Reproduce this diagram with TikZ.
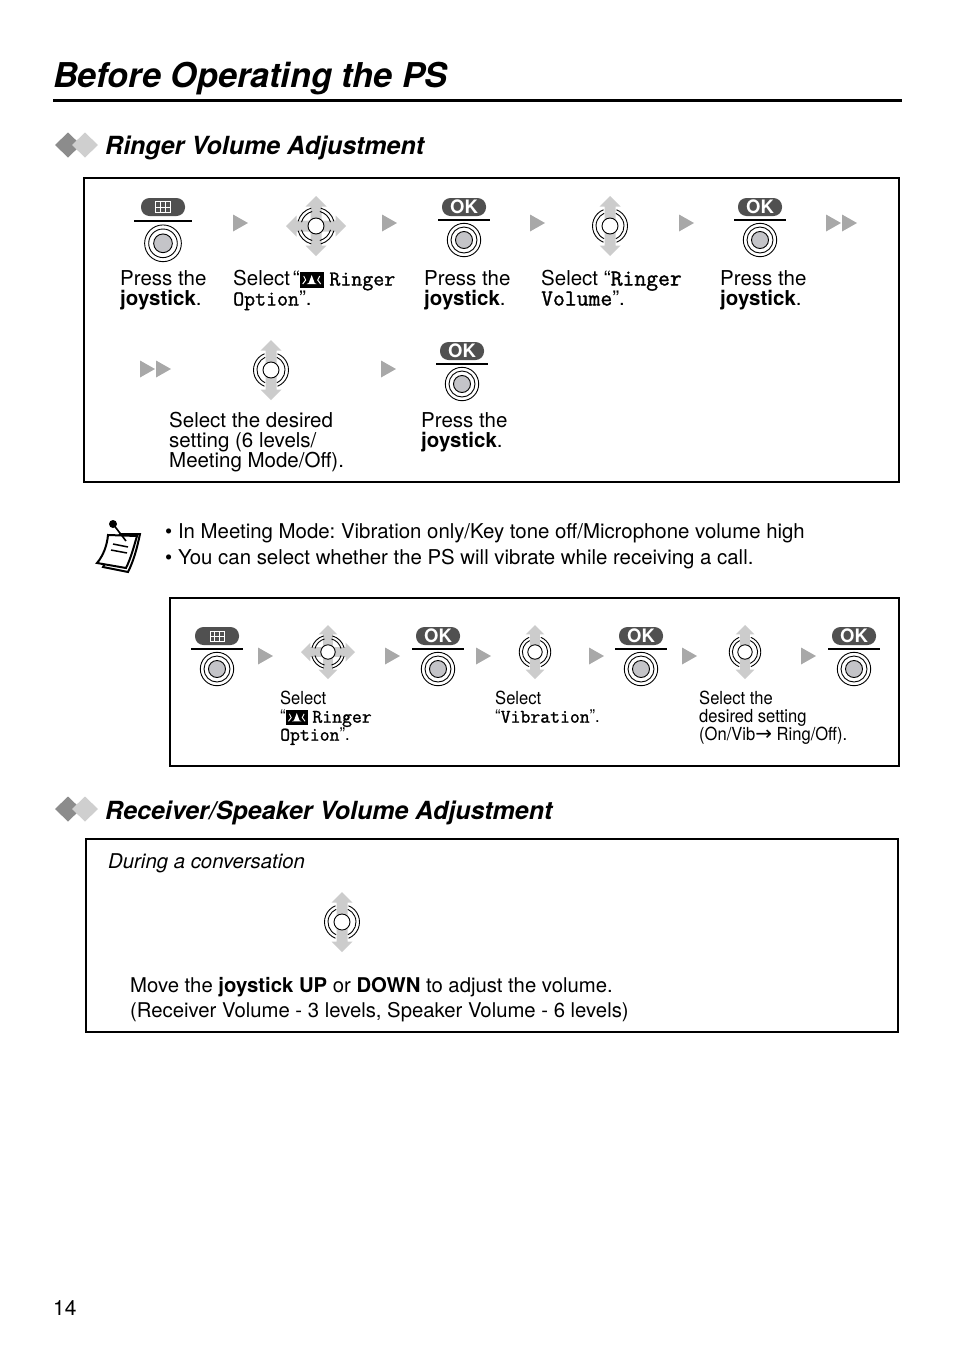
\documentclass[tikz,border=0pt]{standalone}
\usepackage{fontspec}
\usepackage{xcolor}
\setmainfont{TeX Gyre Heros}
\newfontfamily\narrowfont[FakeStretch=0.92]{TeX Gyre Heros}
\newfontfamily\keyfont[FakeBold=1.3]{Latin Modern Mono}
\newfontfamily\arrowfont{DejaVu Sans}
\usetikzlibrary{positioning}
\usetikzlibrary{calc}

\definecolor{pillgray}{HTML}{505050}
\definecolor{tipgray}{HTML}{A8A8A8}
\definecolor{stickgray}{HTML}{CCCCCC}
\definecolor{knobgray}{HTML}{C4C4C8}
\definecolor{darkdiamond}{HTML}{8C8C8C}
\definecolor{lightdiamond}{HTML}{CFCFCF}

\newcommand{\ringicon}{\tikz[baseline=2.5pt,x=1pt,y=1pt]{
    \fill[black] (0,0) rectangle (24,16);
    \fill[white] (12,13) -- (15,5) -- (17,4) -- (7,4) -- (9,5) -- cycle;
    \draw[white,line width=1pt] (4,12) -- (6,8) -- (3,4);
    \draw[white,line width=1pt] (20,12) -- (18,8) -- (21,4);
}}
\newcommand{\monotext}[2]{{\keyfont\fontsize{#1}{18}\selectfont #2}}
\newcommand{\stickshape}{
    \fill[stickgray] (0,-30) -- (10.5,-19.5) -- (5.5,-19.5) -- (5.5,19.5) -- (10.5,19.5) -- (0,30)
        -- (-10.5,19.5) -- (-5.5,19.5) -- (-5.5,-19.5) -- (-10.5,-19.5) -- cycle;
}
\newcommand{\ringshape}{
    \draw[line width=.9pt] (0,33) circle (16.7);
    \draw[line width=.9pt] (0,33) circle (13);
    \draw[line width=.9pt,fill=knobgray] (0,33) circle (8.5);
}

\begin{document}
\frenchspacing
\begin{tikzpicture}[
    x=1pt,y=-1pt,
    frame/.style={
        draw=black,
        line width=2.2pt,
        outer sep=0pt,
        anchor=north west,
        inner sep=0pt
    },
    bodytext/.style={
        font=\fontsize{20.5}{20}\selectfont,
        anchor=north west,
        align=left,
        inner sep=0pt
    },
    smalltext/.style={
        font=\narrowfont\fontsize{18}{18}\selectfont,
        anchor=north west,
        align=left,
        inner sep=0pt
    },
    heading/.style={
        font=\fontsize{25}{26}\bfseries\itshape\selectfont,
        anchor=base west,
        inner sep=0pt
    },
    pill/.style={
        fill=pillgray,
        rounded corners=8.5pt,
        minimum width=44pt,
        minimum height=18pt,
        inner sep=0pt,
        text=white,
        font=\fontsize{18.5}{18}\bfseries\selectfont
    },
    okpress/.pic={
        \node[pill] (-pill) at (0,0) {OK};
        \draw[line width=1.7pt] (-26,13) -- (26,13);
        \ringshape
    },
    menupress/.pic={
        \node[pill] (-pill) at (0,0) {};
        \draw[white,fill=pillgray,line width=1pt] (-7,-5) rectangle (7,5);
        \draw[white,line width=.7pt] (-7,0) -- (7,0) (-2.5,-5) -- (-2.5,5) (2.5,-5) -- (2.5,5);
        \draw[line width=1.7pt] (-26,13) -- (26,13);
        \ringshape
    },
    tip/.pic={
        \fill[tipgray] (-7,-8.5) -- (8,0) -- (-7,8.5) -- cycle;
    },
    doubletip/.pic={
        \fill[tipgray] (-16,-8.5) -- (-1,0) -- (-16,8.5) -- cycle;
        \fill[tipgray] (0,-8.5) -- (15,0) -- (0,8.5) -- cycle;
    },
    updown/.pic={
        \stickshape
        \draw[line width=.9pt] (68:17.5) arc[start angle=68,end angle=-68,radius=17.5];
        \draw[line width=.9pt] (112:17.5) arc[start angle=112,end angle=248,radius=17.5];
        \draw[line width=.9pt] (65:14) arc[start angle=65,end angle=-65,radius=14];
        \draw[line width=.9pt] (115:14) arc[start angle=115,end angle=245,radius=14];
        \draw[line width=.9pt,fill=white] (0,0) circle (8);
    },
    fourway/.pic={
        \stickshape
        \begin{scope}[rotate=90]
            \stickshape
        \end{scope}
        \foreach \ang in {45,135,225,315} {
            \draw[line width=.9pt] (\ang-30:18.5) arc[start angle=\ang-30,end angle=\ang+30,radius=18.5];
            \draw[line width=.9pt] (\ang-30:15) arc[start angle=\ang-30,end angle=\ang+30,radius=15];
        }
        \draw[line width=.9pt,fill=white] (0,0) circle (8);
    },
    diamonds/.pic={
        \fill[darkdiamond] (-13,0) -- (0,-12.5) -- (13,0) -- (0,12.5) -- cycle;
        \fill[lightdiamond] (4,0) -- (17,-12.5) -- (30,0) -- (17,12.5) -- cycle;
    }
]
\useasboundingbox (0,0) rectangle (954,1352);

% --- Title
\node[font=\fontsize{34.2}{36}\bfseries\itshape\selectfont,anchor=base west,inner sep=0pt] (title) at (53,87) {Before Operating the PS};
\coordinate (ruleleft) at (53,100);
\coordinate (ruleright) at (902,100);
\draw[line width=3pt] (ruleleft) -- (ruleright);

% --- Ringer section
\pic at (68,145) {diamonds};
\node[heading] (ringerhead) at (105,154) {Ringer Volume Adjustment};
\node[frame,minimum width=815pt,minimum height=304pt] (ringerbox) at (84,178) {};

% --- Ringer first row
\pic[scale=1.1] at (163,207) {menupress};
\pic at (240,223) {tip};
\pic at (316,226) {fourway};
\pic at (389,223) {tip};
\pic at (464,207) {okpress};
\pic at (537,223) {tip};
\pic at (610,226) {updown};
\pic at (686,223) {tip};
\pic at (760,207) {okpress};
\pic at (842,223) {doubletip};

\node[bodytext] (presslabela) at (120,270) {Press the\\\textbf{joystick}.};
\node[bodytext] (selectlabela) at (233,270) {Select\hspace{-3pt} “\ringicon{} \monotext{21.3}{Ringer}\\\monotext{21.3}{Option}”.};
\node[bodytext] (presslabelb) at (424,270) {Press the\\\textbf{joystick}.};
\node[bodytext] (selectlabelb) at (541,270) {Select “\monotext{23}{Ringer}\\\monotext{23}{Volume}”.};
\node[bodytext] (presslabelc) at (720,270) {Press the\\\textbf{joystick}.};

% --- Ringer second row
\pic at (156,369) {doubletip};
\pic at (271,370) {updown};
\pic at (388,369) {tip};
\pic at (462,351) {okpress};

\node[bodytext] (levellabel) at (169,412) {Select the desired\\setting (6 levels/\\Meeting Mode/Off).};
\node[bodytext] (presslabeld) at (421,412) {Press the\\\textbf{joystick}.};

% --- Note
\fill (113,524) circle (4);
\draw[line width=2pt,fill=white] (103,567) -- (128,572) .. controls (134,560) and (137,548) .. (140,534) -- (120,534) -- cycle;
\draw[line width=2pt,fill=white] (97,563) -- (126,568) .. controls (131,558) and (134,546) .. (137,536) -- (108,535) .. controls (107,546) and (103,556) .. (97,563) -- cycle;
\draw[line width=1.6pt] (113,524) -- (126,541);
\draw[line width=1.5pt] (113,544) -- (128,547);
\draw[line width=1.5pt] (111,550) -- (127,553);
\node[font=\fontsize{20.4}{26}\selectfont,anchor=north west,align=left,inner sep=0pt] (notetext) at (165,523) {• In Meeting Mode: Vibration only/Key tone off/Microphone volume high\\• You can select whether the PS will vibrate while receiving a call.};

% --- Short steps
\node[frame,minimum width=729pt,minimum height=168pt] (stepbox) at (170,598) {};
\pic at (217,636) {menupress};
\pic at (265,656) {tip};
\pic[scale=.9] at (328,652) {fourway};
\pic at (392,656) {tip};
\pic at (438,636) {okpress};
\pic at (483,656) {tip};
\pic[scale=.9] at (535,652) {updown};
\pic at (596,656) {tip};
\pic at (641,636) {okpress};
\pic at (689,656) {tip};
\pic[scale=.9] at (745,652) {updown};
\pic at (808,656) {tip};
\pic at (854,636) {okpress};

\node[smalltext] (smalllabela) at (280,691) {Select\\“\scalebox{.92}{\ringicon} \monotext{19.2}{Ringer}\\\monotext{19.2}{Option}”.};
\node[smalltext] (smalllabelb) at (495,691) {Select\\“\monotext{19.2}{Vibration}”.};
\node[smalltext] (smalllabelc) at (699,691) {Select the\\desired setting\\(On/Vib{\arrowfont\fontsize{20}{18}\selectfont →} Ring/Off).};

% --- Receiver section
\pic at (68,809) {diamonds};
\node[heading] (receiverhead) at (105,819) {Receiver/Speaker Volume Adjustment};
\node[frame,minimum width=812pt,minimum height=193pt] (receiverbox) at (86,839) {};
\node[font=\fontsize{20.35}{20}\itshape\selectfont,anchor=base west,inner sep=0pt] (duringlabel) at (108,868) {During a conversation};
\pic at (342,922) {updown};
\node[font=\fontsize{20.3}{25.5}\selectfont,anchor=north west,align=left,inner sep=0pt] (movelabel) at (130,977) {Move the \textbf{joystick UP} or \textbf{DOWN} to adjust the volume.\\(Receiver Volume - 3 levels, Speaker Volume - 6 levels)};

% --- Page number
\node[font=\fontsize{21}{20}\selectfont,anchor=base west,inner sep=0pt] (pagenum) at (53,1315) {14};

\end{tikzpicture}
\end{document}
